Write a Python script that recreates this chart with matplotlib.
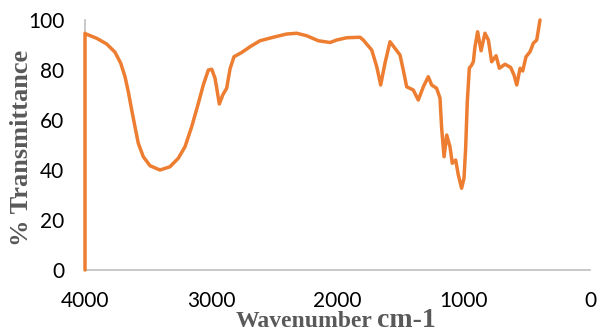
import matplotlib
matplotlib.use("Agg")
import matplotlib.pyplot as plt

# FTIR spectrum (wavenumber cm-1, % transmittance)
wavenumber = [4000, 4000, 3992, 3908, 3828, 3762, 3717, 3683, 3657, 3630, 3604,
              3578, 3538, 3485, 3406, 3327, 3261, 3208, 3155, 3102, 3063, 3023,
              2996, 2970, 2952, 2936, 2909, 2878, 2851, 2820, 2759, 2693, 2614,
              2509, 2402, 2323, 2244, 2152, 2059, 2006, 1927, 1822, 1796, 1729,
              1689, 1658, 1624, 1584, 1545, 1505, 1479, 1452, 1400, 1360, 1320,
              1281, 1254, 1215, 1188, 1175, 1156, 1135, 1109, 1091, 1064, 1043,
              1017, 998, 985, 972, 956, 937, 924, 911, 890, 863, 832, 805, 779,
              744, 718, 673, 628, 602, 580, 554, 533, 507, 475, 449, 422, 396]
transmittance = [0, 94.7, 94.4, 92.7, 90.4, 87.1, 82.7, 77.3, 71.3, 64, 57.3,
                 50.7, 45.3, 41.7, 40, 41.3, 44.7, 49.3, 57.3, 66.7, 74, 80,
                 80.3, 76.7, 71.3, 66.4, 70, 72.7, 80.5, 85.3, 87, 89.3, 91.7,
                 93.1, 94.4, 94.7, 93.7, 91.7, 91, 92, 92.9, 93.1, 92, 88,
                 81.3, 74, 82.7, 91.3, 88.7, 86, 80, 73.3, 72, 68, 73.3,
                 77.3, 74, 72.7, 68.7, 56.7, 45.3, 54, 49.3, 42.7, 44, 38,
                 32.7, 36.7, 48.7, 67.3, 80.7, 82, 83.3, 89.3, 95.3, 87.7, 94.7, 92, 83.3,
                 85.7, 80.7, 82.3, 81, 78, 74, 80.7, 79.6, 85.3, 87.3, 90.7, 92, 100]
xticks = [4000, 3000, 2000, 1000, 0]
yticks = [0, 20, 40, 60, 80, 100]

fig = plt.figure(figsize=(5.98, 3.33), dpi=100)
ax = fig.add_axes([85 / 598, 1 - 270 / 333, 505 / 598, 250 / 333])
ax.plot(wavenumber, transmittance, color="#ED7D31", lw=2.5,
        solid_joinstyle="round", solid_capstyle="round", clip_on=False, zorder=3)
ax.set_xlim(4000, 0)
ax.set_ylim(0, 100)
ax.set_xticks(xticks)
ax.set_yticks(yticks)
ax.tick_params(axis="y", length=0, labelsize=15, pad=15)
ax.tick_params(axis="x", length=0, labelsize=15, pad=15)
for lab in ax.get_xticklabels() + ax.get_yticklabels():
    lab.set_fontfamily("Lato")
for s in ("top", "right"):
    ax.spines[s].set_visible(False)
for s in ("left", "bottom"):
    ax.spines[s].set_color("#bfbfbf")
    ax.spines[s].set_linewidth(1.2)

gray = "#595959"
fig.text(22 / 598, 1 - 148 / 333, "% Transmittance", rotation=90, ha="center",
         va="center", fontsize=19, fontweight="bold", color=gray,
         family="Liberation Serif")
fig.text(373 / 598, 1 - 327 / 333, "Wavenumber", ha="right", va="baseline",
         fontsize=17, fontweight="bold", color=gray, family="Liberation Serif")
fig.text(377 / 598, 1 - 327 / 333, "cm-1", ha="left", va="baseline",
         fontsize=20, fontweight="bold", color=gray, family="Liberation Serif")

fig.savefig("out.png", dpi=100)
